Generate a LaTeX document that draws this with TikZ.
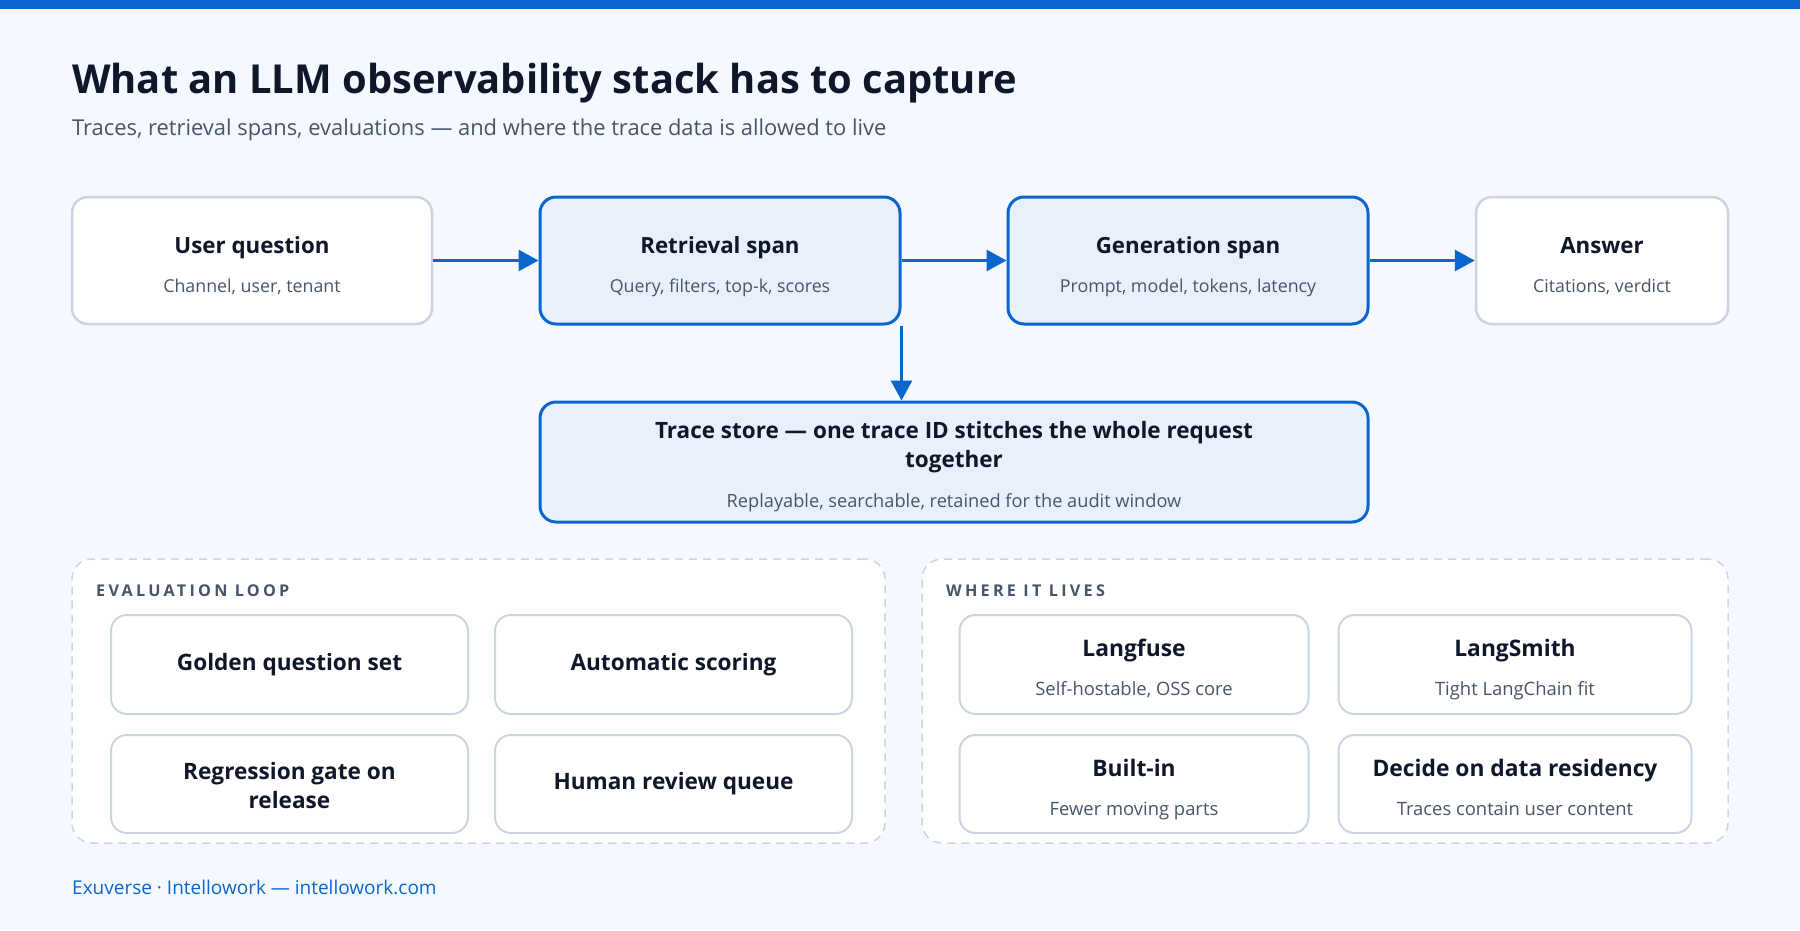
\documentclass[tikz,border=0pt]{standalone}
\usepackage{fontspec}
\setmainfont{Open Sans}
\newfontfamily\lblfont[LetterSpace=20]{Open Sans}
\usetikzlibrary{arrows.meta}
\definecolor{bg}{HTML}{F5F9FF}
\definecolor{brand}{HTML}{0A66CC}
\definecolor{ink}{HTML}{0F172A}
\definecolor{muted}{HTML}{475569}
\definecolor{edge}{HTML}{CBD5E1}
\definecolor{hifill}{HTML}{E8F0FC}
\begin{document}
\begin{tikzpicture}[x=1pt,y=-1pt,
  box/.style={draw=edge, line width=2.5pt, fill=white, rounded corners=16pt, inner sep=0pt},
  hibox/.style={draw=brand, line width=3pt, fill=hifill, rounded corners=16pt, inner sep=0pt},
  panel/.style={draw=edge, line width=1.5pt, dash pattern=on 8pt off 6pt, fill=white, rounded corners=20pt, inner sep=0pt},
  ttl/.style={font=\bfseries\fontsize{22.3}{28}\selectfont, text=ink, align=center, inner sep=0pt, anchor=base},
  sub/.style={font=\fontsize{17.8}{22}\selectfont, text=muted, inner sep=0pt, anchor=base},
  ittl/.style={font=\bfseries\fontsize{22.6}{29}\selectfont, text=ink, align=center, inner sep=0pt},
  plabel/.style={font=\lblfont\bfseries\fontsize{16.2}{19}\selectfont, text=muted, inner sep=0pt, anchor=base west},
  arr/.style={draw=brand, line width=3pt, -{Triangle[length=20pt,width=21pt]}},
]
\fill[bg] (0,0) rectangle (1800,930);
\useasboundingbox (0,0) rectangle (1800,930);
\fill[brand] (0,0) rectangle (1800,9);

% heading
\node[font=\bfseries\fontsize{39.9}{44}\selectfont, text=ink, inner sep=0pt, anchor=base west] (title) at (72,93) {What an LLM observability stack has to capture};
\node[font=\fontsize{21.9}{26}\selectfont, text=muted, inner sep=0pt, anchor=base west] (subtitle) at (72,135) {Traces, retrieval spans, evaluations — and where the trace data is allowed to live};

% row 1
\node[box, minimum width=360pt, minimum height=127pt] (uq) at (252,260.5) {};
\node[hibox, minimum width=360pt, minimum height=127pt] (rs) at (720,260.5) {};
\node[hibox, minimum width=360pt, minimum height=127pt] (gs) at (1188,260.5) {};
\node[box, minimum width=252pt, minimum height=127pt] (an) at (1602,260.5) {};

\node[ttl] (uqt) at (252,253) {User question};
\node[sub] (uqs) at (252,292) {Channel, user, tenant};
\node[ttl] (rst) at (720,253) {Retrieval span};
\node[sub] (rss) at (720,292) {Query, filters, top-k, scores};
\node[ttl] (gst) at (1188,253) {Generation span};
\node[sub] (gss) at (1188,292) {Prompt, model, tokens, latency};
\node[ttl] (ant) at (1602,253) {Answer};
\node[sub] (ans) at (1602,292) {Citations, verdict};

% trace store
\node[hibox, minimum width=828pt, minimum height=120pt] (ts) at (954,462) {};
\node[ttl, font=\bfseries\fontsize{22.5}{28}\selectfont] (tst1) at (954,438) {Trace store — one trace ID stitches the whole request};
\node[ttl, font=\bfseries\fontsize{22.5}{28}\selectfont] (tst2) at (954,467) {together};
\node[sub, font=\fontsize{18.2}{22}\selectfont] (tss) at (954,507) {Replayable, searchable, retained for the audit window};

% arrows
\draw[arr] (uq.east) -- (rs.west);
\draw[arr] (rs.east) -- (gs.west);
\draw[arr] (gs.east) -- (an.west);
\coordinate (drop) at (rs.south east);
\draw[arr] (drop) -- (drop |- ts.north);

% panels
\node[panel, minimum width=813pt, minimum height=284pt] (evp) at (478.5,701) {};
\node[panel, minimum width=806pt, minimum height=284pt] (whp) at (1325,701) {};
\node[plabel] (evl) at (96,596) {EVALUATION LOOP};
\node[plabel] (whl) at (946,596) {WHERE IT LIVES};

% evaluation loop boxes
\node[box, line width=2pt, minimum width=357pt, minimum height=99pt] (gq) at (289.5,664.5) {};
\node[box, line width=2pt, minimum width=357pt, minimum height=99pt] (as) at (673.5,664.5) {};
\node[box, line width=2pt, minimum width=357pt, minimum height=98pt] (rg) at (289.5,784) {};
\node[box, line width=2pt, minimum width=357pt, minimum height=98pt] (hr) at (673.5,784) {};
\node[ittl] (gqt) at (289.5,664.5) {Golden question set};
\node[ittl] (ast) at (673.5,664.5) {Automatic scoring};
\node[ittl] (rgt) at (289.5,786) {Regression gate on\\release};
\node[ittl] (hrt) at (673.5,784) {Human review queue};

% where it lives boxes
\node[box, line width=2pt, minimum width=349pt, minimum height=99pt] (lf) at (1134,664.5) {};
\node[box, line width=2pt, minimum width=353pt, minimum height=99pt] (ls) at (1515,664.5) {};
\node[box, line width=2pt, minimum width=349pt, minimum height=98pt] (bi) at (1134,784) {};
\node[box, line width=2pt, minimum width=353pt, minimum height=98pt] (dr) at (1515,784) {};
\node[ttl, font=\bfseries\fontsize{22.8}{28}\selectfont] (lft) at (1134,656) {Langfuse};
\node[sub, font=\fontsize{18.4}{22}\selectfont] (lfs) at (1134,695) {Self-hostable, OSS core};
\node[ttl, font=\bfseries\fontsize{22.8}{28}\selectfont] (lst) at (1515,656) {LangSmith};
\node[sub, font=\fontsize{18.4}{22}\selectfont] (lss) at (1515,695) {Tight LangChain fit};
\node[ttl, font=\bfseries\fontsize{22.8}{28}\selectfont] (bit) at (1134,776) {Built-in};
\node[sub, font=\fontsize{18.4}{22}\selectfont] (bis) at (1134,815) {Fewer moving parts};
\node[ttl, font=\bfseries\fontsize{22.8}{28}\selectfont] (drt) at (1515,776) {Decide on data residency};
\node[sub, font=\fontsize{18.4}{22}\selectfont] (drs) at (1515,815) {Traces contain user content};

% footer
\node[font=\fontsize{19}{23}\selectfont, text=brand, inner sep=0pt, anchor=base west] (foot) at (72,894) {Exuverse · Intellowork — intellowork.com};
\end{tikzpicture}
\end{document}
